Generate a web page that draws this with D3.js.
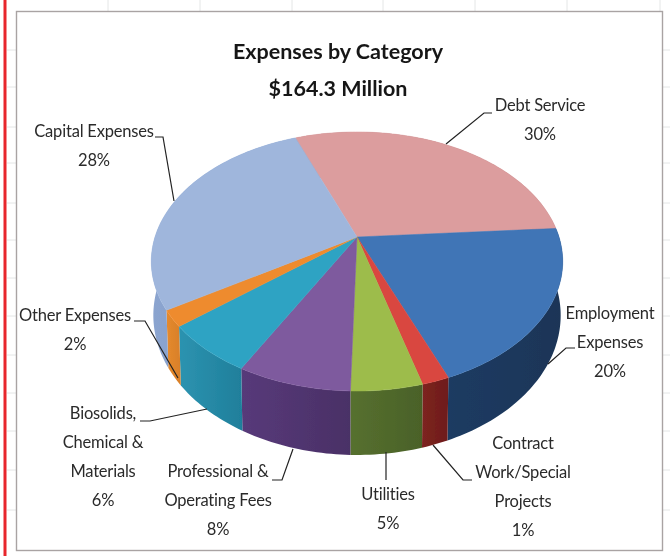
<!DOCTYPE html>
<html lang="en">
<head>
<meta charset="utf-8">
<title>Expenses by Category</title>
<script src="https://cdnjs.cloudflare.com/ajax/libs/d3/7.8.5/d3.min.js"></script>
<style>
    html, body { margin: 0; padding: 0; background: #fff; }
    svg { display: block; }
    text { font-family: Lato, "Open Sans", sans-serif; fill: #2b2b2b; text-anchor: middle; }
    .label { font-size: 16.5px; letter-spacing: -0.2px; }
    .title { font-size: 21.5px; font-weight: 700; fill: #161616; }
</style>
</head>
<body>
<div id="chart"></div>
<script>
// chart values
var categories = ["Debt Service", "Employment Expenses", "Contract Work/Special Projects", "Utilities",
    "Professional & Operating Fees", "Biosolids, Chemical & Materials", "Other Expenses", "Capital Expenses"];
var shares = [29.7, 20, 1.8, 4.7, 7.5, 6.2, 2, 28];
var percentLabels = ["30%", "20%", "1%", "5%", "8%", "6%", "2%", "28%"];
var labelLines = [
    ["Debt Service"],
    ["Employment", "Expenses"],
    ["Contract", "Work/Special", "Projects"],
    ["Utilities"],
    ["Professional &", "Operating Fees"],
    ["Biosolids,", "Chemical &", "Materials"],
    ["Other Expenses"],
    ["Capital Expenses"]
];
var titleLines = ["Expenses by Category", "$164.3 Million"];
var topColors = ["#dc9d9e", "#3f75b6", "#d9463f", "#9dbc4b", "#7e5a9e", "#2fa3c3", "#ee8b2d", "#9fb6dc"];
var wallLeft = ["#b07a7a", "#1b3b62", "#7d2320", "#56702f", "#573a7a", "#2c93b0", "#e58a2e", "#8ba4cf"];
var wallRight = ["#b07a7a", "#1a3557", "#6e1c1c", "#4a6128", "#4a3066", "#1f7f9b", "#d87f28", "#7f99c5"];

// page layout
var width = 670, height = 556;
var gridX = [108, 200, 292, 383, 475, 567, 660];
var gridY = [50, 87, 127, 163, 203, 240, 278, 316, 355, 393, 431, 470, 510];

// label centres and leader lines, same order as categories
var labelPos = [
    { x: 540, y: 105, leader: [[492, 113], [484, 113], [446, 144]] },
    { x: 610, y: 313, leader: [[575, 348], [566, 348], [548, 364]] },
    { x: 523, y: 443, leader: [[472, 480], [463, 480], [433, 445]] },
    { x: 388, y: 494, leader: [[386, 452], [386, 480]] },
    { x: 218, y: 471, leader: [[272, 480], [282, 480], [293, 449]] },
    { x: 103, y: 413, leader: [[140, 421], [150, 421], [207, 409]] },
    { x: 75, y: 315, leader: [[134, 321], [145, 321], [178, 378]] },
    { x: 94, y: 131, leader: [[155, 137], [163, 137], [174, 201]] }
];
var lineGap = 29;

// pie in perspective: k tilts it, the near side comes out bigger
var k = 0.189;
var topFace = { cx: 357, cy: 237, rx: 202, ry: 124.9 };
var bottomFace = { cx: 357, cy: 289, rx: 200, ry: 134.6 };

function project(face, a) {
    var u = Math.sin(a), v = -Math.cos(a), w = 1 - k * v;
    return [face.cx + face.rx * u / w, face.cy + face.ry * v / w];
}

function arcPoints(face, a0, a1) {
    var n = Math.max(2, Math.ceil((a1 - a0) / 0.02));
    return d3.range(n + 1).map(function(i) { return project(face, a0 + (a1 - a0) * i / n); });
}

var line = d3.line();

var svg = d3.select("#chart").append("svg")
    .attr("width", width)
    .attr("height", height);

var defs = svg.append("defs");
var soft = defs.append("filter").attr("id", "soft");
soft.append("feGaussianBlur").attr("stdDeviation", 0.45);

// sheet behind the chart
svg.selectAll(".gridx").data(gridX).enter().append("line")
    .attr("x1", function(d) { return d; }).attr("x2", function(d) { return d; })
    .attr("y1", 0).attr("y2", 11)
    .attr("stroke", "#e4e6e6");
svg.selectAll(".gridy").data(gridY).enter().append("line")
    .attr("x1", 7).attr("x2", width)
    .attr("y1", function(d) { return d; }).attr("y2", function(d) { return d; })
    .attr("stroke", "#e4e6e6");

svg.append("rect")
    .attr("x", 16.5).attr("y", 11.5)
    .attr("width", 646).attr("height", 539)
    .attr("fill", "#fff")
    .attr("stroke", "#a9a3a3")
    .attr("stroke-width", 1.4);

svg.append("rect")
    .attr("x", 3.5).attr("y", 0)
    .attr("width", 3).attr("height", height)
    .attr("fill", "#e8262c");

var slices = d3.pie().sort(null).value(function(d) { return d; })
    .startAngle(-21 * Math.PI / 180)
    .endAngle(339 * Math.PI / 180)(shares);

var pieGroup = svg.append("g").attr("filter", "url(#soft)");

// side walls first, the top face covers whatever is behind it
slices.forEach(function(s, i) {
    var id = "wall" + i;
    var grad = defs.append("linearGradient").attr("id", id);
    grad.append("stop").attr("offset", "0%").attr("stop-color", wallLeft[i]);
    grad.append("stop").attr("offset", "100%").attr("stop-color", wallRight[i]);

    var upper = arcPoints(topFace, s.startAngle, s.endAngle);
    var lower = arcPoints(bottomFace, s.startAngle, s.endAngle).reverse();
    pieGroup.append("path")
        .attr("d", line(upper.concat(lower)) + "Z")
        .attr("fill", "url(#" + id + ")");
});

slices.forEach(function(s, i) {
    var rim = arcPoints(topFace, s.startAngle, s.endAngle);
    pieGroup.append("path")
        .attr("d", line([[topFace.cx, topFace.cy]].concat(rim)) + "Z")
        .attr("fill", topColors[i])
        .attr("stroke", topColors[i])
        .attr("stroke-width", 0.5);
});

// leader lines
svg.selectAll(".leader").data(labelPos).enter().append("path")
    .attr("class", "leader")
    .attr("d", function(d) { return line(d.leader); })
    .attr("fill", "none")
    .attr("stroke", "#222")
    .attr("stroke-width", 1.2);

// labels, name lines then the percent
var textGroup = svg.append("g").attr("filter", "url(#soft)");

categories.forEach(function(name, i) {
    var rows = labelLines[i].concat([percentLabels[i]]);
    textGroup.selectAll(".row" + i).data(rows).enter().append("text")
        .attr("class", "label")
        .attr("x", labelPos[i].x)
        .attr("y", function(d, j) { return labelPos[i].y + j * lineGap; })
        .attr("dy", "0.35em")
        .text(function(d) { return d; });
});

textGroup.selectAll(".title").data(titleLines).enter().append("text")
    .attr("class", "title")
    .attr("x", 338)
    .attr("y", function(d, j) { return 51 + j * 37; })
    .attr("dy", "0.35em")
    .text(function(d) { return d; });
</script>
</body>
</html>
